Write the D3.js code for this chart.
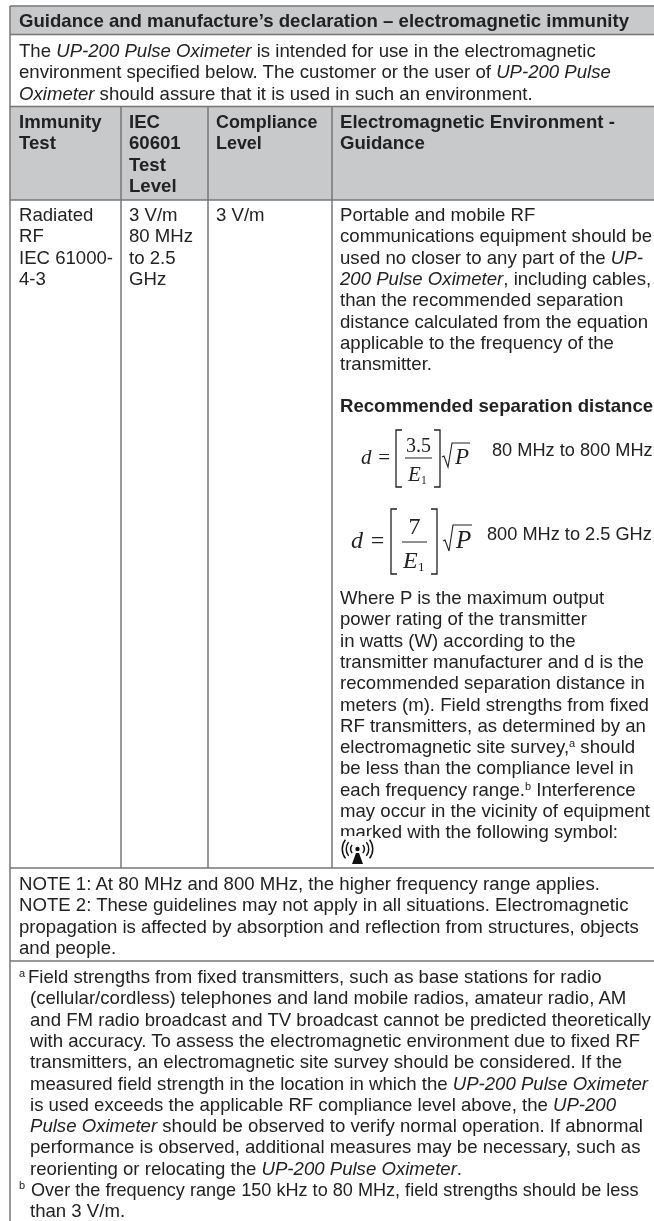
<!DOCTYPE html>
<html>
<head>
<meta charset="utf-8">
<script src="https://cdn.jsdelivr.net/npm/d3@7"></script>
<style>
html, body { margin: 0; padding: 0; background: #fff; }
svg { display: block; filter: blur(0.35px); }
text { font-family: "Liberation Sans", Arial, sans-serif; fill: #222; }
.eq { font-family: "Liberation Serif", serif; }
</style>
</head>
<body>
<script>
var w = 654,
    h = 1221;

// *...* marks italic, ^...^ marks superscript
var titleLines = ["Guidance and manufacture’s declaration – electromagnetic immunity"];
var introLines = [
  "The *UP-200 Pulse Oximeter* is intended for use in the electromagnetic",
  "environment specified below. The customer or the user of *UP-200 Pulse*",
  "*Oximeter* should assure that it is used in such an environment."
];
var headers = [
  ["Immunity", "Test"],
  ["IEC", "60601", "Test", "Level"],
  ["Compliance", "Level"],
  ["Electromagnetic Environment -", "Guidance"]
];
var testLines = ["Radiated", "RF", "IEC 61000-", "4-3"];
var levelLines = ["3 V/m", "80 MHz", "to 2.5", "GHz"];
var complianceLines = ["3 V/m"];
var guidanceLines = [
  "Portable and mobile RF",
  "communications equipment should be",
  "used no closer to any part of the *UP-*",
  "*200 Pulse Oximeter*, including cables,",
  "than the recommended separation",
  "distance calculated from the equation",
  "applicable to the frequency of the",
  "transmitter."
];
var separationTitle = ["Recommended separation distance"];
var whereLines = [
  "Where P is the maximum output",
  "power rating of the transmitter",
  "in watts (W) according to the",
  "transmitter manufacturer and d is the",
  "recommended separation distance in",
  "meters (m). Field strengths from fixed",
  "RF transmitters, as determined by an",
  "electromagnetic site survey,^a^ should",
  "be less than the compliance level in",
  "each frequency range.^b^ Interference",
  "may occur in the vicinity of equipment",
  "marked with the following symbol:"
];
var noteLines = [
  "NOTE 1: At 80 MHz and 800 MHz, the higher frequency range applies.",
  "NOTE 2: These guidelines may not apply in all situations. Electromagnetic",
  "propagation is affected by absorption and reflection from structures, objects",
  "and people."
];
var footALines = [
  "(cellular/cordless) telephones and land mobile radios, amateur radio, AM",
  "and FM radio broadcast and TV broadcast cannot be predicted theoretically",
  "with accuracy. To assess the electromagnetic environment due to fixed RF",
  "transmitters, an electromagnetic site survey should be considered. If the",
  "measured field strength in the location in which the *UP-200 Pulse Oximeter*",
  "is used exceeds the applicable RF compliance level above, the *UP-200*",
  "*Pulse Oximeter* should be observed to verify normal operation. If abnormal",
  "performance is observed, additional measures may be necessary, such as",
  "reorienting or relocating the *UP-200 Pulse Oximeter*."
];
var footBLines = ["than 3 V/m."];
var equations = [
  {num: "3.5", range: "80 MHz to 800 MHz"},
  {num: "7", range: "800 MHz to 2.5 GHz"}
];

var svg = d3.select("body").append("svg")
  .attr("width", w)
  .attr("height", h);

var lineGap = 21.3,
    fontSize = 18.6,
    lineColor = "#757678",
    bandColor = "#c8c9cb";

var x = d3.scaleOrdinal().domain([0, 1, 2, 3]).range([19, 129, 216, 340]);
var colLines = [10, 121, 208, 332];

// bands
svg.append("rect").attr("x", 10).attr("y", 6).attr("width", w - 10).attr("height", 28.5).attr("fill", bandColor);
svg.append("rect").attr("x", 10).attr("y", 106.5).attr("width", w - 10).attr("height", 93.5).attr("fill", bandColor);

// rules
svg.selectAll("line.rule")
  .data([6, 34.5, 106.5, 200, 868, 961])
  .enter().append("line")
  .attr("class", "rule")
  .attr("x1", 10).attr("x2", w)
  .attr("y1", function(d) { return d; })
  .attr("y2", function(d) { return d; })
  .attr("stroke", lineColor)
  .attr("stroke-width", 1.5);

svg.append("line").attr("x1", 10).attr("x2", 10).attr("y1", 6).attr("y2", h)
  .attr("stroke", lineColor).attr("stroke-width", 1.5);

svg.selectAll("line.col")
  .data(colLines.slice(1))
  .enter().append("line")
  .attr("class", "col")
  .attr("x1", function(d) { return d; })
  .attr("x2", function(d) { return d; })
  .attr("y1", 106.5).attr("y2", 868)
  .attr("stroke", lineColor)
  .attr("stroke-width", 1.5);

// writes one line of marked up text as tspans
function writeLine(sel, str) {
  var parts = str.split(/(\*[^*]+\*|\^[^^]+\^)/).filter(function(s) { return s.length; });
  var lift = 0;
  parts.forEach(function(p) {
    var t = sel.append("tspan");
    if (p[0] == "^") {
      t.attr("font-size", 11).attr("dy", -6).text(p.slice(1, -1));
      lift = 6;
      return;
    }
    if (lift) t.attr("dy", lift);
    lift = 0;
    if (p[0] == "*") {
      t.attr("font-style", "italic").text(p.slice(1, -1));
    } else {
      t.text(p);
    }
  });
}

function block(lines, left, top, opts) {
  opts = opts || {};
  var g = svg.append("g");
  var y = d3.scaleLinear().domain([0, 1]).range([top, top + lineGap]);
  g.selectAll("text")
    .data(lines)
    .enter().append("text")
    .attr("x", left)
    .attr("y", function(d, i) { return y(i); })
    .attr("font-size", opts.size || fontSize)
    .attr("font-weight", opts.bold ? "bold" : "normal")
    .each(function(d) { writeLine(d3.select(this), d); });
}

block(titleLines, 19, 27, {bold: true});
block(introLines, 19, 57);

headers.forEach(function(lines, i) {
  // the Compliance column is set a little tighter in the original
  block(lines, x(i), 128, {bold: true, size: i == 2 ? 17.9 : fontSize});
});

block(testLines, x(0), 221);
block(levelLines, x(1), 221);
block(complianceLines, x(2), 221);
block(guidanceLines, x(3), 221);
block(separationTitle, x(3), 412, {bold: true});
block(whereLines, x(3), 604);

block(noteLines, 19, 890);

block(["a"], 19, 977, {size: 11});
block(["Field strengths from fixed transmitters, such as base stations for radio"], 28, 983);
block(footALines, 30, 1004.3);
block(["b"], 19, 1189, {size: 11});
block(["Over the frequency range 150 kHz to 80 MHz, field strengths should be less"], 31, 1196, {size: 18.1});
block(footBLines, 30, 1217);

// equations
function drawEq(d, o) {
  var g = svg.append("g");
  function path(str, sw) {
    g.append("path").attr("d", str).attr("fill", "none").attr("stroke", "#222").attr("stroke-width", sw || 1.3);
  }
  g.append("text").attr("class", "eq").attr("x", o.dx).attr("y", o.dy)
    .attr("font-size", o.size).attr("font-style", "italic").text("d");
  g.append("text").attr("class", "eq").attr("x", o.dx + o.size * 0.82).attr("y", o.dy)
    .attr("font-size", o.size).text("=");
  path("M" + (o.bl + 6) + "," + o.bt + "H" + o.bl + "V" + o.bb + "H" + (o.bl + 6));
  path("M" + (o.br - 6) + "," + o.bt + "H" + o.br + "V" + o.bb + "H" + (o.br - 6));
  path("M" + o.fl + "," + o.fy + "H" + o.fr, 1);
  g.append("text").attr("class", "eq").attr("x", (o.fl + o.fr) / 2).attr("y", o.ny)
    .attr("text-anchor", "middle").attr("font-size", o.numSize).text(d.num);
  g.append("text").attr("class", "eq").attr("x", o.ex).attr("y", o.ey)
    .attr("font-size", o.size).attr("font-style", "italic").text("E");
  g.append("text").attr("class", "eq").attr("x", o.ex + o.size * 0.62).attr("y", o.ey + 3)
    .attr("font-size", o.size * 0.55).text("1");
  path("M" + (o.sl - 4) + "," + (o.dy - 7) + "L" + (o.sl - 2) + "," + (o.dy - 8) + "L" + (o.sl + 2) + "," + (o.dy + 3) + "L" + (o.sl + 6) + "," + o.st + "H" + o.sr, 1.1);
  g.append("text").attr("class", "eq").attr("x", o.sl + 9).attr("y", o.dy)
    .attr("font-size", o.pSize).attr("font-style", "italic").text("P");
  g.append("text").attr("x", o.rx).attr("y", o.ry).attr("font-size", 18.2).text(d.range);
}

drawEq(equations[0], {dx: 361, dy: 464, size: 21, numSize: 20, pSize: 23, bl: 396, br: 440, bt: 430, bb: 487, fl: 405, fr: 432, fy: 458, ny: 452, ex: 408, ey: 481, sl: 446, sr: 470, st: 443, rx: 492, ry: 456});
drawEq(equations[1], {dx: 351, dy: 548, size: 24, numSize: 24, pSize: 25, bl: 391, br: 437, bt: 509, bb: 574, fl: 402, fr: 427, fy: 542, ny: 534, ex: 403, ey: 568, sl: 447, sr: 472, st: 525, rx: 487, ry: 540});

// RF symbol, white patch cuts into the text line above it
var sym = svg.append("g").attr("transform", "translate(357.5,849)");
sym.append("rect").attr("x", -20).attr("y", -13).attr("width", 35).attr("height", 15).attr("fill", "#fff");
[6, 10.5, 14.5].forEach(function(r) {
  [1, -1].forEach(function(s) {
    var mid = s * Math.PI / 2;
    sym.append("path")
      .attr("d", d3.arc().innerRadius(r).outerRadius(r + 1.5).startAngle(mid - 0.66).endAngle(mid + 0.66)())
      .attr("fill", "#111");
  });
});
sym.append("circle").attr("r", 2.2).attr("fill", "#111");
sym.append("path").attr("d", "M-1.5,4L1.5,4L5.5,15H-5.5Z").attr("fill", "#111");
</script>
</body>
</html>
